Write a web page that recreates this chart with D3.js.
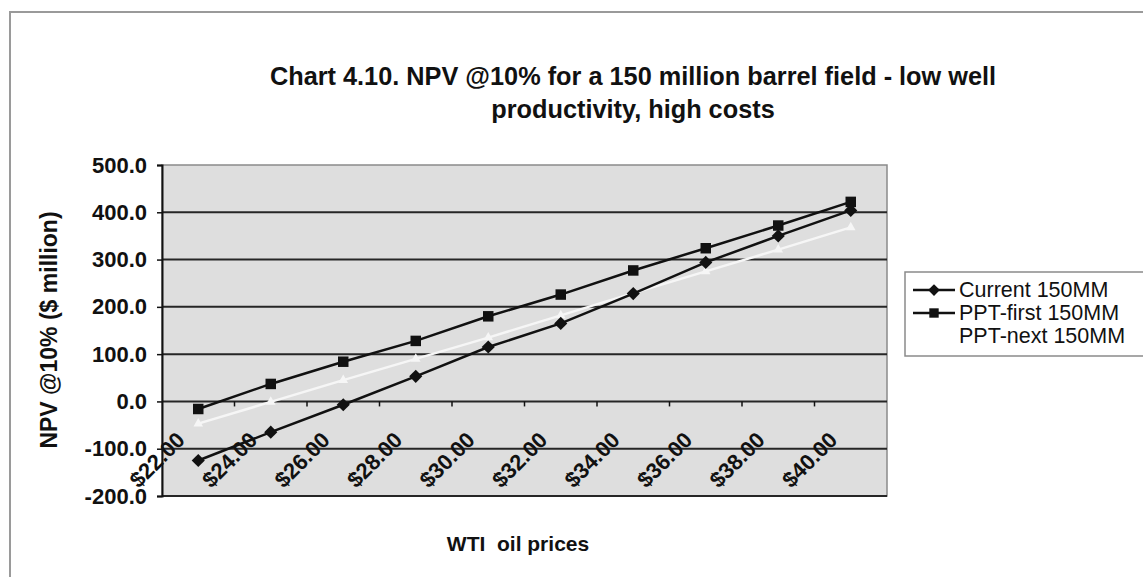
<!DOCTYPE html>
<html>
<head>
<meta charset="utf-8">
<script src="https://cdn.jsdelivr.net/npm/d3@7"></script>
<style>
  body { margin: 0; background: #fff; }
  text { font-family: "Liberation Sans", Arial, sans-serif; fill: #111; }
</style>
</head>
<body>
<div id="chart-area"></div>
<script>
// WTI price categories
const prices = ["$22.00", "$24.00", "$26.00", "$28.00", "$30.00", "$32.00", "$34.00", "$36.00", "$38.00", "$40.00"]
// NPV @10% ($ million)
const current150 = [-125, -65, -7, 53, 115, 165, 228, 294, 350, 404]
const pptFirst150 = [-16, 37, 84, 128, 180, 226, 277, 324, 372, 422]
const pptNext150 = [-47, -1, 45, 90, 135, 182, 229, 275, 321, 368]
const yTicks = [-200, -100, 0, 100, 200, 300, 400, 500]
const seriesNames = ["Current 150MM", "PPT-first 150MM", "PPT-next 150MM"]

const W = 1143, H = 577
const PLOT = { LEFT: 162, RIGHT: 887, TOP: 165, BOTTOM: 496 }

const svg = d3.select("#chart-area").append("svg")
	.attr("width", W)
	.attr("height", H)

// chart area border (cut off at right / bottom)
svg.append("path")
	.attr("d", `M10,${H + 5} L10,12 L${W + 5},12`)
	.attr("fill", "none")
	.attr("stroke", "#9a9a9a")
	.attr("stroke-width", 2)

// title
const title = svg.append("text")
	.attr("text-anchor", "middle")
	.attr("font-size", "25.3px")
	.attr("font-weight", "bold")
title.append("tspan").attr("x", 633).attr("y", 85)
	.text("Chart 4.10. NPV @10% for a 150 million barrel field - low well")
title.append("tspan").attr("x", 633).attr("y", 118)
	.text("productivity, high costs")

// scales
const x = d3.scaleBand().domain(prices).range([PLOT.LEFT, PLOT.RIGHT])
const y = d3.scaleLinear().domain([-200, 500]).range([PLOT.BOTTOM, PLOT.TOP])

// plot area
svg.append("rect")
	.attr("x", PLOT.LEFT)
	.attr("y", PLOT.TOP)
	.attr("width", PLOT.RIGHT - PLOT.LEFT)
	.attr("height", PLOT.BOTTOM - PLOT.TOP)
	.attr("fill", "#dedede")
	.attr("stroke", "#8a8a8a")
	.attr("stroke-width", 1.5)

// gridlines
svg.append("g")
	.selectAll("line")
	.data(yTicks.filter(d => d < 500))
	.join("line")
	.attr("x1", PLOT.LEFT)
	.attr("x2", PLOT.RIGHT)
	.attr("y1", d => y(d))
	.attr("y2", d => y(d))
	.attr("stroke", "#262626")
	.attr("stroke-width", 2)

// y axis (plain hyphen for negatives, like Excel)
const yAxis = svg.append("g")
	.attr("transform", `translate(${PLOT.LEFT}, 0)`)
	.call(d3.axisLeft(y).tickValues(yTicks).tickFormat(d => d.toFixed(1)).tickSizeOuter(0).tickSize(5).tickPadding(10))
yAxis.select(".domain").attr("stroke", "#111").attr("stroke-width", 2)
yAxis.selectAll(".tick line").attr("stroke", "#111").attr("stroke-width", 1.5)
yAxis.selectAll(".tick text")
	.attr("font-size", "22px")
	.attr("font-weight", "bold")
	.attr("fill", "#111")
	.attr("font-family", "Liberation Sans, Arial, sans-serif")

// x axis sits on the zero line, ticks between categories
const xTickPos = prices.map(p => x(p))
svg.append("g")
	.selectAll("line")
	.data(xTickPos.slice(1))
	.join("line")
	.attr("x1", d => d)
	.attr("x2", d => d)
	.attr("y1", y(0))
	.attr("y2", y(0) + 5)
	.attr("stroke", "#111")
	.attr("stroke-width", 1.5)

svg.append("g")
	.selectAll("text")
	.data(prices)
	.join("text")
	.attr("transform", d => `translate(${x(d) + x.bandwidth() / 2 - 12}, ${y(0) + 40}) rotate(-45)`)
	.attr("text-anchor", "end")
	.attr("font-size", "22px")
	.attr("font-weight", "bold")
	.text(d => d)

// axis titles
svg.append("text")
	.attr("transform", `translate(57, 330) rotate(-90)`)
	.attr("text-anchor", "middle")
	.attr("font-size", "23px")
	.attr("font-weight", "bold")
	.text("NPV @10% ($ million)")

svg.append("text")
	.attr("x", 518)
	.attr("y", 551)
	.attr("text-anchor", "middle")
	.attr("font-size", "21px")
	.attr("font-weight", "bold")
	.style("white-space", "pre")
	.text("WTI  oil prices")

// series
const line = d3.line()
	.x((d, i) => x(prices[i]) + x.bandwidth() / 2)
	.y(d => y(d))

const series = [
	{ name: seriesNames[0], values: current150, color: "#111", symbol: d3.symbolDiamond2, size: 110 },
	{ name: seriesNames[1], values: pptFirst150, color: "#111", symbol: d3.symbolSquare, size: 110 },
	{ name: seriesNames[2], values: pptNext150, color: "#f6f6f6", symbol: d3.symbolTriangle, size: 40 }
]

// draw the white one first so the black lines sit on top
series.slice().reverse().forEach(s => {
	svg.append("path")
		.attr("d", line(s.values))
		.attr("fill", "none")
		.attr("stroke", s.color)
		.attr("stroke-width", 2.5)
	svg.append("g")
		.selectAll("path")
		.data(s.values)
		.join("path")
		.attr("transform", (d, i) => `translate(${x(prices[i]) + x.bandwidth() / 2}, ${y(d)})`)
		.attr("d", d3.symbol().type(s.symbol).size(s.size))
		.attr("fill", s.color)
})

// legend
const legend = svg.append("g")
legend.append("rect")
	.attr("x", 905)
	.attr("y", 272)
	.attr("width", 260)
	.attr("height", 84)
	.attr("fill", "#fff")
	.attr("stroke", "#8a8a8a")
	.attr("stroke-width", 1.5)

series.forEach((s, i) => {
	const ly = 290 + i * 23
	legend.append("line")
		.attr("x1", 913).attr("x2", 955)
		.attr("y1", ly).attr("y2", ly)
		.attr("stroke", s.color === "#111" ? s.color : "#fff")
		.attr("stroke-width", 2.5)
	legend.append("path")
		.attr("transform", `translate(934, ${ly})`)
		.attr("d", d3.symbol().type(s.symbol).size(s.size * 0.8))
		.attr("fill", s.color === "#111" ? s.color : "#fff")
	legend.append("text")
		.attr("x", 959)
		.attr("y", ly + 7)
		.attr("font-size", "21.5px")
		.text(s.name)
})
</script>
</body>
</html>
